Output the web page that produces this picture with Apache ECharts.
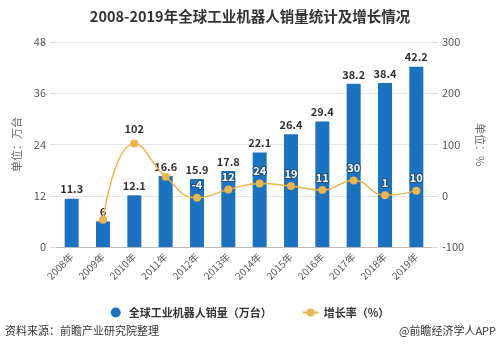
<!DOCTYPE html>
<html><head><meta charset="utf-8">
<script src="https://cdn.jsdelivr.net/npm/echarts@6/dist/echarts.min.js"></script>
<style>html,body{margin:0;padding:0;background:#fff}#c{width:500px;height:349px}</style>
</head><body><div id="c"></div>
<script>
var years = ['2008年','2009年','2010年','2011年','2012年','2013年','2014年','2015年','2016年','2017年','2018年','2019年'];
var sales = [11.3, 6, 12.1, 16.6, 15.9, 17.8, 22.1, 26.4, 29.4, 38.2, 38.4, 42.2];
var growth = [null, -47, 102, 37, -4, 12, 24, 19, 11, 30, 1, 10];
var hiddenGrowthLabels = [1, 3];
var plainGrowthLabels = [2];
var leftTicks = [0, 48, 12];
var rightTicks = [-100, 300, 100];

var font = '"Noto Sans CJK SC", "Noto Sans", sans-serif';
var growthData = growth.map(function (v, i) {
  if (hiddenGrowthLabels.indexOf(i) >= 0) return {value: v, label: {show: false}};
  if (plainGrowthLabels.indexOf(i) >= 0) return {value: v, label: {color: '#333', textBorderWidth: 0, distance: 5}};
  return v;
});
var chart = echarts.init(document.getElementById('c'));
chart.setOption({
  animation: false,
  textStyle: {fontFamily: font},
  title: {
    text: '2008-2019年全球工业机器人销量统计及增长情况',
    left: 'center', top: 4,
    textStyle: {fontSize: 14.5, fontWeight: 'bold', color: '#333', fontFamily: font}
  },
  graphic: [
    {type: 'text', left: 5, top: 325, style: {text: '资料来源：前瞻产业研究院整理', fontSize: 11, fill: '#333', fontFamily: font}},
    {type: 'text', right: 4, top: 325, style: {text: '@前瞻经济学人APP', fontSize: 11, fill: '#333', fontFamily: font}}
  ],
  legend: {
    bottom: 26, left: 'center', itemGap: 30, itemWidth: 16, itemHeight: 10,
    textStyle: {fontSize: 11, color: '#333', fontWeight: 'bold'},
    data: [{name: '全球工业机器人销量（万台）', icon: 'circle'}, {name: '增长率（%）'}]
  },
  grid: {left: 56, right: 68, top: 42, bottom: 102},
  xAxis: {
    type: 'category', data: years,
    axisLine: {lineStyle: {color: '#bbb'}},
    axisTick: {alignWithLabel: true, lineStyle: {color: '#bbb'}},
    axisLabel: {rotate: 45, fontSize: 10, color: '#555', margin: 8}
  },
  yAxis: [{
    type: 'value', min: leftTicks[0], max: leftTicks[1], interval: leftTicks[2],
    name: '单位：万台', nameLocation: 'middle', nameGap: 34, nameRotate: 90,
    nameTextStyle: {fontSize: 11, color: '#666'},
    axisLine: {show: false},
    axisTick: {show: true, length: 6, lineStyle: {color: '#ddd'}},
    axisLabel: {fontSize: 11, color: '#555', margin: 10},
    splitLine: {lineStyle: {color: '#e6e6e6'}}
  }, {
    type: 'value', min: rightTicks[0], max: rightTicks[1], interval: rightTicks[2],
    name: '单位：%', nameLocation: 'middle', nameGap: 40, nameRotate: -90,
    nameTextStyle: {fontSize: 11, color: '#666'},
    axisLine: {show: false},
    axisTick: {show: true, length: 6, lineStyle: {color: '#ddd'}},
    axisLabel: {fontSize: 11, color: '#555', margin: 10},
    splitLine: {show: false}
  }],
  series: [{
    name: '全球工业机器人销量（万台）', type: 'bar', data: sales, barWidth: 14,
    itemStyle: {color: '#1a72c1'},
    label: {show: true, position: 'top', fontSize: 11, fontWeight: 'bold', color: '#333', distance: 4}
  }, {
    name: '增长率（%）', type: 'line', yAxisIndex: 1, data: growthData, smooth: true,
    symbol: 'circle', symbolSize: 8,
    lineStyle: {color: '#eab54a', width: 1.5},
    itemStyle: {color: '#eab54a'},
    label: {show: true, position: 'top', distance: 3, fontSize: 11, fontWeight: 'bold', color: '#fff',
      textBorderColor: '#1d4f80', textBorderWidth: 2}
  }]
});
</script></body></html>
